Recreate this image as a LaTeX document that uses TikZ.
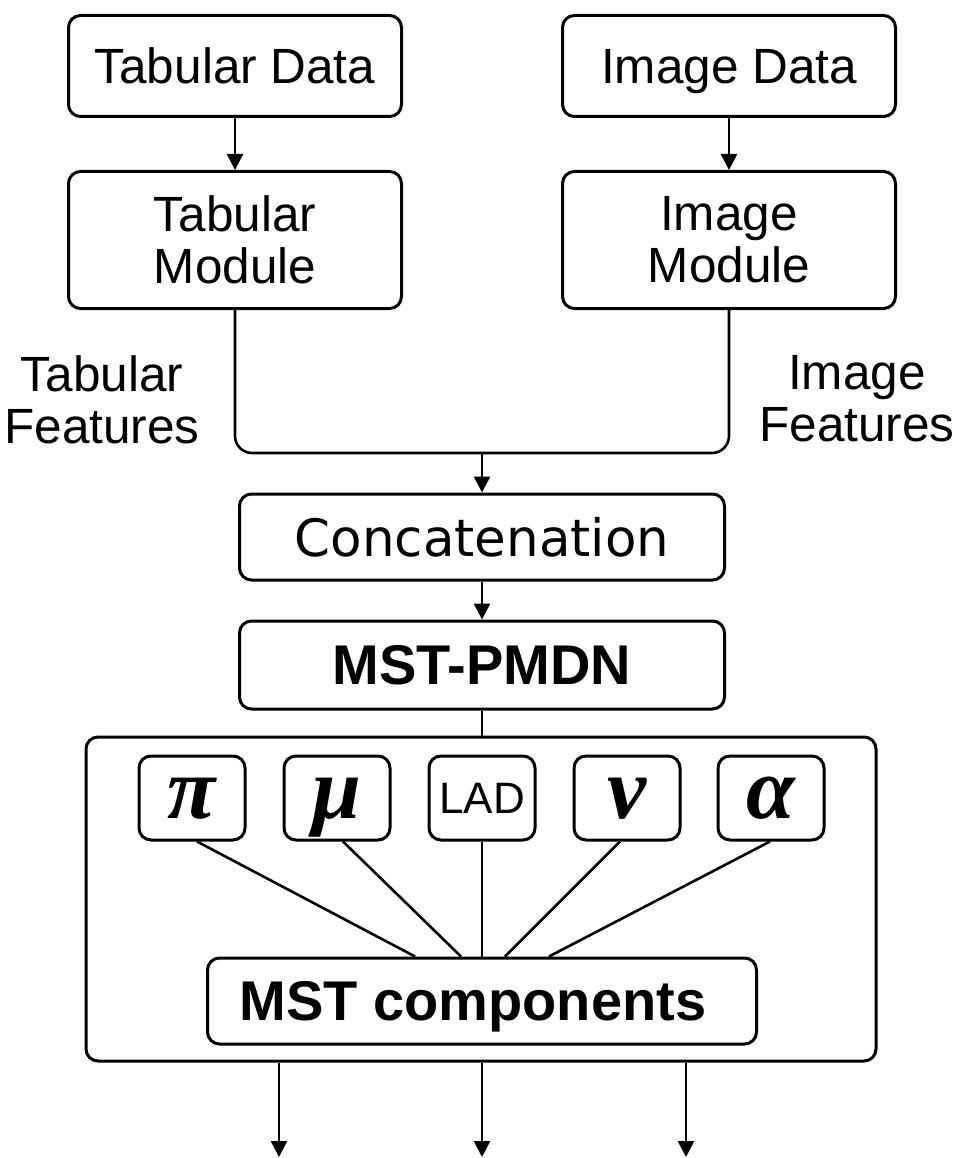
\documentclass[tikz,border=0pt]{standalone}
\usepackage{fontspec}
\setmainfont{Liberation Sans}
\newfontfamily\dvfont{DejaVu Sans}
\newfontfamily\gkfont{Liberation Serif}
\usetikzlibrary{arrows.meta}
\newcommand{\fMain}{\fontsize{49.5pt}{52pt}\selectfont}
\newcommand{\fBold}{\fontsize{56pt}{60pt}\selectfont\bfseries}
\newcommand{\fGreek}{\fontsize{88pt}{92pt}\selectfont\gkfont\bfseries\itshape}
\tikzset{
  box/.style={draw, line width=3pt, rounded corners=12pt, inner sep=0pt, align=center},
  onel/.style={text depth=0pt},
  conn/.style={line width=2.6pt},
  arr/.style={conn, -{Triangle[length=16pt,width=16pt]}},
  smallbox/.style={box, minimum width=106pt, minimum height=84pt},
  greek/.style={smallbox, font=\fGreek, text height=40pt, text depth=0pt},
}
\begin{document}
\begin{tikzpicture}[x=1pt, y=-1pt]
\useasboundingbox (0,0) rectangle (963,1158);
\fill[white] (0,0) rectangle (963,1158);

% top row
\node[box, onel, minimum width=333pt, minimum height=101pt, font=\fMain] (td) at (235,66) {Tabular Data};
\node[box, onel, minimum width=333pt, minimum height=101pt, font=\fMain] (id) at (729,66) {Image Data};
% modules
\node[box, minimum width=333pt, minimum height=137pt, font=\fMain] (tm) at (235,240) {Tabular\\Module};
\node[box, minimum width=333pt, minimum height=137pt, font=\fMain] (im) at (729,240) {Image\\Module};
% feature labels
\node[align=center, inner sep=0pt, font=\fMain] (tf) at (102,400) {Tabular\\Features};
\node[align=center, inner sep=0pt, font=\fMain] (imf) at (857,399) {Image\\Features};

% concatenation & MST-PMDN
\node[box, onel, minimum width=485pt, minimum height=86pt, font={\fontsize{51.5pt}{56pt}\selectfont\dvfont}] (cc) at (482,537) {Concatenation};
\node[box, onel, minimum width=485pt, minimum height=88pt, font=\fBold] (pm) at (482,665) {MST-PMDN};

% big container
\node[box, minimum width=790pt, minimum height=324pt] (big) at (481,899) {};

% parameter boxes
\node[greek] (s1) at (192,798) {π};
\node[greek] (s2) at (337,798) {μ};
\node[smallbox, onel, font={\fontsize{44pt}{48pt}\selectfont}] (s3) at (482,798) {LAD};
\node[greek] (s4) at (627,798) {ν};
\node[greek] (s5) at (771,798) {α};

% MST components
\node[box, onel, minimum width=549pt, minimum height=86pt, font=\fBold] (mst) at (482,1001) {MST components\hspace{18pt}};

% coordinates
\coordinate (j) at (482,453);
\coordinate (o1) at (279,1157);
\coordinate (o2) at (482,1157);
\coordinate (o3) at (686,1157);

% connectors
\draw[arr] (td) -- (tm);
\draw[arr] (id) -- (im);
\draw[conn, rounded corners=17pt] (tm.south) |- (j) -| (im.south);
\draw[arr] (j) -- (cc.north);
\draw[arr] (cc) -- (pm);
\draw[conn] (pm.south) -- (pm.south |- big.north);

\draw[conn] ([xshift=5pt]s1.south) -- ([xshift=-67pt]mst.north);
\draw[conn] ([xshift=6pt]s2.south) -- ([xshift=-21pt]mst.north);
\draw[conn] (s3.south) -- (mst.north);
\draw[conn] ([xshift=-7pt]s4.south) -- ([xshift=23pt]mst.north);
\draw[conn] ([xshift=-1pt]s5.south) -- ([xshift=67pt]mst.north);

\draw[arr] (big.south -| o1) -- (o1);
\draw[arr] (big.south -| o2) -- (o2);
\draw[arr] (big.south -| o3) -- (o3);
\end{tikzpicture}
\end{document}
